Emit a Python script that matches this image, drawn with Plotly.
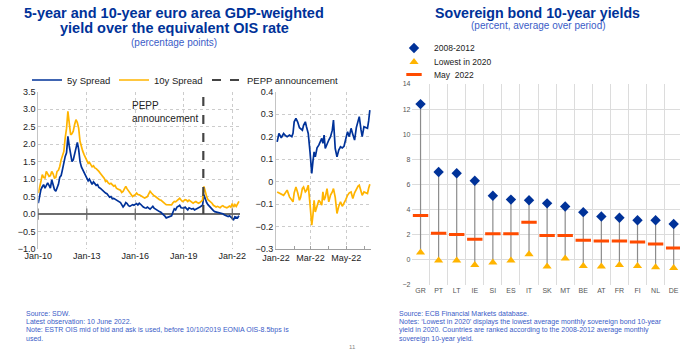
import pandas as pd
import plotly.graph_objects as go

# ---------------- Left panel: monthly spreads (Jan-2010 .. Jun-2022) ----------------
START_MONTH = "2010-01-01"
SPREAD_5Y = [
    0.31, 0.55, 0.70, 0.78, 0.84, 0.74, 0.80, 0.89, 0.82, 0.74, 0.98, 0.85,   # 2010
    0.70, 0.65, 0.74, 0.85, 1.05, 1.10, 1.27, 1.50, 1.65, 1.75, 2.22, 1.95,   # 2011
    1.70, 1.50, 1.55, 1.70, 1.89, 2.05, 1.85, 1.50, 1.35, 1.27, 1.20, 1.10,   # 2012
    1.05, 0.95, 1.00, 0.90, 0.85, 0.92, 0.86, 0.82, 0.84, 0.76, 0.74, 0.70,   # 2013
    0.66, 0.64, 0.60, 0.58, 0.52, 0.48, 0.50, 0.44, 0.45, 0.43, 0.40, 0.38,   # 2014
    0.36, 0.33, 0.27, 0.20, 0.25, 0.33, 0.30, 0.24, 0.22, 0.25, 0.27, 0.25,   # 2015
    0.27, 0.30, 0.26, 0.31, 0.28, 0.22, 0.20, 0.18, 0.17, 0.20, 0.16, 0.14,   # 2016
    0.18, 0.22, 0.17, 0.14, 0.12, 0.10, 0.07, 0.05, 0.02, -0.02, -0.06, -0.11,  # 2017
    -0.10, -0.08, -0.06, -0.05, 0.05, 0.15, 0.12, 0.20, 0.22, 0.25, 0.18, 0.17,  # 2018
    0.17, 0.20, 0.15, 0.12, 0.18, 0.17, 0.14, 0.16, 0.12, 0.14, 0.17, 0.18,   # 2019
    0.20, 0.22, 0.25, 0.55, 0.42, 0.33, 0.27, 0.22, 0.18, 0.15, 0.10, 0.07,   # 2020
    0.06, 0.04, 0.03, 0.04, 0.03, 0.01, -0.02, -0.03, -0.05, -0.07, -0.05, -0.09,  # 2021
    -0.11, -0.16, -0.08, -0.10, -0.11, -0.05,                                 # 2022
]
SPREAD_10Y = [
    0.60, 0.84, 0.93, 1.13, 1.05, 1.03, 1.22, 1.15, 1.08, 1.10, 1.22, 1.15,   # 2010
    1.03, 1.05, 1.22, 1.25, 1.36, 1.55, 1.70, 1.79, 2.18, 2.45, 2.94, 2.56,   # 2011
    2.27, 2.30, 2.37, 2.56, 2.70, 2.62, 2.46, 2.08, 1.89, 1.80, 1.70, 1.60,   # 2012
    1.51, 1.45, 1.48, 1.41, 1.35, 1.38, 1.32, 1.30, 1.27, 1.22, 1.17, 1.12,   # 2013
    1.08, 1.02, 0.93, 0.95, 0.89, 0.86, 0.88, 0.84, 0.80, 0.82, 0.74, 0.72,   # 2014
    0.70, 0.68, 0.62, 0.65, 0.72, 0.79, 0.72, 0.66, 0.60, 0.55, 0.50, 0.53,   # 2015
    0.55, 0.60, 0.56, 0.55, 0.52, 0.50, 0.48, 0.46, 0.47, 0.50, 0.58, 0.65,   # 2016
    0.60, 0.55, 0.52, 0.50, 0.46, 0.44, 0.41, 0.40, 0.36, 0.31, 0.30, 0.27,   # 2017
    0.27, 0.25, 0.27, 0.26, 0.32, 0.36, 0.35, 0.38, 0.41, 0.45, 0.40, 0.36,   # 2018
    0.38, 0.41, 0.40, 0.36, 0.40, 0.36, 0.33, 0.31, 0.34, 0.36, 0.33, 0.31,   # 2019
    0.33, 0.36, 0.40, 0.79, 0.60, 0.50, 0.41, 0.38, 0.33, 0.31, 0.25, 0.22,   # 2020
    0.20, 0.22, 0.20, 0.18, 0.22, 0.24, 0.21, 0.19, 0.18, 0.20, 0.23, 0.20,   # 2021
    0.30, 0.20, 0.27, 0.22, 0.28, 0.36,                                       # 2022
]
PEPP_DATE = "2020-03-18"
MAIN_TICKS = ["2010-01-01", "2013-01-01", "2016-01-01", "2019-01-01", "2022-01-01"]

# ---------------- Left panel inset: 2022 daily-ish spreads ----------------
INSET_DATES = [
    "2022-01-03", "2022-01-06", "2022-01-10", "2022-01-14", "2022-01-17", "2022-01-20",
    "2022-01-24", "2022-01-28", "2022-01-30", "2022-02-01", "2022-02-04", "2022-02-07",
    "2022-02-10", "2022-02-12", "2022-02-15", "2022-02-17", "2022-02-20", "2022-02-22",
    "2022-02-25", "2022-02-28", "2022-03-03", "2022-03-05", "2022-03-07", "2022-03-09",
    "2022-03-12", "2022-03-15", "2022-03-17", "2022-03-20", "2022-03-22", "2022-03-24",
    "2022-03-26", "2022-03-29", "2022-04-01", "2022-04-04", "2022-04-07", "2022-04-09",
    "2022-04-12", "2022-04-15", "2022-04-18", "2022-04-21", "2022-04-24", "2022-04-27",
    "2022-04-30", "2022-05-03", "2022-05-06", "2022-05-09", "2022-05-12", "2022-05-15",
    "2022-05-18", "2022-05-21", "2022-05-23", "2022-05-26", "2022-05-28", "2022-05-31",
    "2022-06-03", "2022-06-06", "2022-06-08", "2022-06-10",
]
INSET_5Y = [
    0.177, 0.214, 0.195, 0.214, 0.205, 0.200, 0.207, 0.200, 0.215, 0.266, 0.281, 0.265,
    0.240, 0.237, 0.229, 0.250, 0.266, 0.244, 0.214, 0.132, 0.036, 0.090, 0.132, 0.110,
    0.150, 0.162, 0.177, 0.192, 0.170, 0.207, 0.147, 0.170, 0.185, 0.200, 0.229, 0.274,
    0.147, 0.110, 0.140, 0.155, 0.150, 0.157, 0.190, 0.222, 0.200, 0.237, 0.210, 0.185,
    0.240, 0.274, 0.289, 0.230, 0.200, 0.244, 0.240, 0.237, 0.270, 0.318,
]
INSET_10Y = [
    -0.046, -0.050, -0.053, -0.061, -0.050, -0.038, -0.068, -0.085, -0.090, -0.050, -0.024, -0.050,
    -0.083, -0.070, -0.030, -0.024, -0.046, -0.040, -0.016, -0.100, -0.194, -0.150, -0.083, -0.135,
    -0.110, -0.083, -0.090, -0.105, -0.046, -0.083, -0.070, -0.031, -0.090, -0.060, -0.046, -0.031,
    -0.070, -0.142, -0.110, -0.090, -0.110, -0.098, -0.080, -0.061, -0.050, -0.046, -0.075, -0.050,
    -0.031, -0.020, -0.016, -0.050, -0.061, -0.046, -0.050, -0.053, -0.030, -0.012,
]

# ---------------- Right panel: sovereign 10y yields ----------------
COUNTRIES = ["GR", "PT", "LT", "IE", "SI", "ES", "IT", "SK", "MT", "BE", "AT", "FR", "FI", "NL", "DE"]
AVG_2008_2012 = [12.4, 7.0, 6.9, 6.3, 5.1, 4.8, 4.75, 4.5, 4.25, 3.8, 3.45, 3.35, 3.15, 3.15, 2.85]
LOWEST_2020 = [0.58, -0.05, -0.05, -0.40, -0.20, -0.05, 0.45, -0.53, 0.10, -0.48, -0.53, -0.40, -0.48, -0.58, -0.65]
MAY_2022 = [3.53, 2.12, 2.01, 1.64, 2.07, 2.07, 3.00, 1.94, 1.94, 1.56, 1.51, 1.51, 1.43, 1.27, 0.95]

# ---------------- Styles ----------------
FONT = "Liberation Sans"
BLUE = "#003299"
YELLOW = "#FFB400"
RED = "#FF4B00"
TXT_BLUE = "#3a5cc7"
GRID = "#cccccc"

months = pd.date_range(START_MONTH, periods=len(SPREAD_5Y), freq="MS")

fig = go.Figure()

# Main chart
fig.add_trace(go.Scatter(x=months, y=SPREAD_5Y, mode="lines", name="5y Spread",
                         line=dict(color=BLUE, width=1.7), xaxis="x", yaxis="y", legend="legend"))
fig.add_trace(go.Scatter(x=months, y=SPREAD_10Y, mode="lines", name="10y Spread",
                         line=dict(color=YELLOW, width=1.7), xaxis="x", yaxis="y", legend="legend2"))
fig.add_trace(go.Scatter(x=[PEPP_DATE, PEPP_DATE], y=[0, 3.5], mode="lines", name="PEPP announcement",
                         line=dict(color="#444444", width=2.2, dash="dash"), xaxis="x", yaxis="y",
                         legend="legend3"))
fig.add_trace(go.Scatter(x=MAIN_TICKS, y=[0] * len(MAIN_TICKS), mode="markers", showlegend=False,
                         marker=dict(symbol="line-ns", size=8, line=dict(color="#666666", width=1.2)),
                         hoverinfo="skip", xaxis="x", yaxis="y"))

# Inset
fig.add_trace(go.Scatter(x=INSET_DATES, y=INSET_5Y, mode="lines", showlegend=False,
                         line=dict(color=BLUE, width=1.7), xaxis="x2", yaxis="y2"))
fig.add_trace(go.Scatter(x=INSET_DATES, y=INSET_10Y, mode="lines", showlegend=False,
                         line=dict(color=YELLOW, width=1.7), xaxis="x2", yaxis="y2"))

# Right chart
seg_x, seg_y = [], []
for c, lo, hi in zip(COUNTRIES, LOWEST_2020, AVG_2008_2012):
    seg_x += [c, c, None]
    seg_y += [lo, hi, None]
fig.add_trace(go.Scatter(x=seg_x, y=seg_y, mode="lines", showlegend=False, hoverinfo="skip",
                         line=dict(color="#8c8c8c", width=1.2), xaxis="x3", yaxis="y3"))
fig.add_trace(go.Scatter(x=COUNTRIES, y=MAY_2022, mode="markers", name="May\u00a0 2022",
                         marker=dict(symbol="line-ew", size=11, line=dict(color=RED, width=3)),
                         xaxis="x3", yaxis="y3", legend="legend6"))
fig.add_trace(go.Scatter(x=COUNTRIES, y=LOWEST_2020, mode="markers", name="Lowest in 2020",
                         marker=dict(symbol="triangle-up", size=8, color=YELLOW),
                         xaxis="x3", yaxis="y3", legend="legend5"))
fig.add_trace(go.Scatter(x=COUNTRIES, y=AVG_2008_2012, mode="markers", name="2008-2012",
                         marker=dict(symbol="diamond", size=8, color=BLUE),
                         xaxis="x3", yaxis="y3", legend="legend4"))

W, H = 680, 355
def px_x(v):
    return v / W
def px_y(v):
    return 1 - v / H

main_dom_y = [px_y(249), px_y(91.7)]

def leg(x, y, size):
    return dict(x=px_x(x), y=px_y(y), xanchor="left", yanchor="middle", orientation="v",
                bgcolor="rgba(0,0,0,0)", font=dict(size=size, color="#222222"),
                itemwidth=30, tracegroupgap=0)

fig.update_layout(
    width=W, height=H, margin=dict(l=0, r=0, t=0, b=0, autoexpand=False),
    paper_bgcolor="white", plot_bgcolor="white",
    font=dict(family=FONT, size=9, color="#222222"),
    xaxis=dict(domain=[px_x(38.3), px_x(240)], anchor="y", type="date",
               range=["2010-01-01", "2022-06-25"], tickvals=MAIN_TICKS, tickformat="%b-%y",
               showgrid=True, gridcolor=GRID, griddash="dot", gridwidth=1,
               showline=False, zeroline=False, ticks="", tickfont=dict(size=9, color="#222222"),
               automargin=False),
    yaxis=dict(domain=main_dom_y, anchor="x", range=[-1, 3.5], dtick=0.5, tickformat=".1f",
               showgrid=True, gridcolor=GRID, griddash="dot",
               zeroline=True, zerolinecolor="#6e6e6e", zerolinewidth=1.5,
               showline=True, linecolor="#c4c4c4", linewidth=1, ticks="",
               tickfont=dict(size=9, color="#222222"), automargin=False),
    xaxis2=dict(domain=[px_x(276), px_x(371)], anchor="y2", type="date",
                range=["2022-01-01", "2022-06-12"], tick0="2022-01-01", dtick="M2", tickformat="%b-%y",
                showgrid=True, gridcolor=GRID, griddash="dot",
                showline=True, linecolor="#a0a0a0", zeroline=False,
                ticks="inside", ticklen=3, tickcolor="#a0a0a0",
                minor=dict(dtick="M1", ticks="inside", ticklen=3, tickcolor="#a0a0a0", showgrid=False),
                tickfont=dict(size=9, color="#222222"), automargin=False),
    yaxis2=dict(domain=main_dom_y, anchor="x2", range=[-0.3, 0.4], dtick=0.1,
                showgrid=True, gridcolor=GRID, griddash="dot", zeroline=False,
                showline=True, linecolor="#c4c4c4", ticks="",
                tickfont=dict(size=9, color="#222222"), automargin=False),
    xaxis3=dict(domain=[px_x(411.5), 1.0], anchor="y3", type="category",
                categoryorder="array", categoryarray=COUNTRIES,
                range=[-0.5, 14.35], tickson="boundaries", showgrid=True, gridcolor="#dcdcdc",
                gridwidth=1, ticks="", showline=False, zeroline=False, tickangle=0,
                tickfont=dict(size=7, color="#555555"), automargin=False),
    yaxis3=dict(domain=[px_y(285), px_y(84)], anchor="x3", range=[-2, 14], dtick=2,
                showgrid=True, gridcolor="#dcdcdc", gridwidth=1, zeroline=False, ticks="",
                showline=False, tickfont=dict(size=7, color="#555555"), automargin=False),
    legend=leg(27, 80, 9.5),
    legend2=leg(114, 80, 9.5),
    legend3=leg(207, 80, 9.5),
    legend4=leg(394, 48, 8.5),
    legend5=leg(394, 62, 8.5),
    legend6=leg(394, 74.5, 8.5),
    showlegend=True,
)

def note(text, x, y, size=7.0, color=TXT_BLUE, xanchor="left", bold=False):
    fig.add_annotation(text=f"<b>{text}</b>" if bold else text, x=x, y=y, xref="paper", yref="paper",
                       xanchor=xanchor, yanchor="middle", showarrow=False,
                       font=dict(family=FONT, size=size, color=color), align="left")

# Titles
note("5-year and 10-year euro area GDP-weighted", px_x(174), px_y(12.7), size=14.5, color=BLUE,
     xanchor="center", bold=True)
note("yield over the equivalent OIS rate", px_x(174), px_y(28.3), size=14.5, color=BLUE,
     xanchor="center", bold=True)
note("(percentage points)", px_x(174), px_y(42.7), size=10, xanchor="center")
note("Sovereign bond 10-year yields", px_x(537), px_y(12.7), size=14.2, color=BLUE,
     xanchor="center", bold=True)
note("(percent, average over period)", px_x(538), px_y(25.7), size=10, xanchor="center")

# PEPP annotation in chart
note("PEPP", px_x(129.5), px_y(105.7), size=10, color="#222222")
note("announcement", px_x(129.5), px_y(118.3), size=10, color="#222222")

# Footnotes
left_notes = ["Source: SDW.",
              "Latest observation: 10 June 2022.",
              "Note: ESTR OIS mid of bid and ask is used, before 10/10/2019 EONIA OIS-8.5bps is",
              "used."]
for i, t in enumerate(left_notes):
    note(t, px_x(24), px_y(313.3 + 8.5 * i))
right_notes = ["Source: ECB Financial Markets database.",
               "Notes: \u2018Lowest in 2020\u2019 displays the lowest average monthly sovereign bond 10-year",
               "yield in 2020. Countries are ranked according to the 2008-2012 average monthly",
               "sovereign 10-year yield."]
for i, t in enumerate(right_notes):
    note(t, px_x(396.7), px_y(313.3 + 8.5 * i))
note("11", px_x(352.7), px_y(347), size=6, color="#888888", xanchor="center")

fig.write_html("out.html", config={"displayModeBar": False},
               post_script="document.body.style.margin='0px';")
